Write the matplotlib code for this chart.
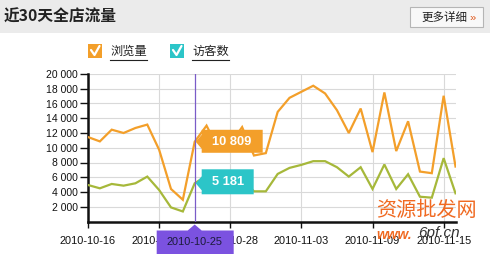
import matplotlib
matplotlib.use("Agg")
import matplotlib.pyplot as plt
import matplotlib.dates as mdates
import matplotlib.transforms as mtransforms
from matplotlib.patches import Polygon, Rectangle, FancyBboxPatch
from matplotlib.lines import Line2D
from matplotlib.ticker import FuncFormatter
import pandas as pd

# dados (30 dias de trafego da loja)
dias = pd.date_range("2010-10-16", "2010-11-16", freq="D")
visualizacoes = [11450, 10860, 12450, 12000, 12680, 13140, 9730, 4410, 2950, 10809,
                 13000, 9800, 10500, 12800, 8950, 9270, 14860, 16770, 17590, 18410,
                 17360, 15090, 12000, 15320, 9410, 17500, 9550, 13590, 6770, 6550,
                 17050, 7450]
visitantes = [4950, 4500, 5090, 4860, 5180, 6090, 4270, 1910, 1360, 5181,
              6200, 4500, 5000, 5800, 4090, 4090, 6450, 7270, 7680, 8180,
              8180, 7360, 6090, 7360, 4410, 7730, 4410, 6410, 3360, 3230,
              8590, 3820]
datas_eixo = ["2010-10-16", "2010-10-22", "2010-10-28", "2010-11-03", "2010-11-09", "2010-11-15"]
ticks_y = [2000, 4000, 6000, 8000, 10000, 12000, 14000, 16000, 18000, 20000]
dia_destaque = 9

titulo = "近30天全店流量"
botao = "更多详细"
legenda = ["浏览量", "访客数"]

COR_LARANJA = "#f39f2a"
COR_VERDE = "#a6b83a"
COR_TEAL = "#2cc5c8"
COR_ROXO = "#7b52e0"

CJK = ["Noto Sans CJK SC", "DejaVu Sans"]
NUM = ["Liberation Sans", "DejaVu Sans"]

W, H = 490, 254
fig = plt.figure(figsize=(W / 100, H / 100), dpi=100)
fig.patch.set_facecolor("white")


def px(x, y):
    return (x / W, 1 - y / H)


# cabecalho
fig.add_artist(Rectangle(px(0, 33), 1, 33 / H, transform=fig.transFigure,
                         facecolor="#ebebeb", edgecolor="none"))
fig.text(*px(4, 17), titulo, family=CJK, fontsize=11.3, fontweight="bold",
         va="center", ha="left", color="#222222")
fig.add_artist(FancyBboxPatch(px(410, 27), 73 / W, 20 / H, transform=fig.transFigure,
                              boxstyle="square,pad=0", facecolor="#f8f8f8",
                              edgecolor="#b5b5b5", linewidth=0.8))
fig.text(*px(421, 17.5), botao, family=CJK, fontsize=8.3, va="center", ha="left",
         color="#222222")
fig.text(*px(469, 17.5), "»", family=NUM, fontsize=8, va="center", ha="left",
         color="#e0561a")

# legenda
for x0, cor, rotulo in [(88, COR_LARANJA, legenda[0]), (170, COR_TEAL, legenda[1])]:
    fig.add_artist(FancyBboxPatch(px(x0, 58), 14 / W, 14 / H, transform=fig.transFigure,
                                  boxstyle="square,pad=0", facecolor=cor, edgecolor="none"))
    xs = [(x0 + 3) / W, (x0 + 6.5) / W, (x0 + 11.5) / W]
    ys = [1 - 50 / H, 1 - 55 / H, 1 - 46 / H]
    fig.add_artist(Line2D(xs, ys, transform=fig.transFigure, color="white", lw=1.6,
                          solid_capstyle="round", solid_joinstyle="round"))
    fig.text(*px(x0 + 22, 51.5), rotulo, family=CJK, fontsize=8.8, va="center",
             ha="left", color="#222222")
    fig.add_artist(Line2D([(x0 + 22) / W, (x0 + 59) / W], [1 - 59.5 / H, 1 - 59.5 / H],
                          transform=fig.transFigure, color="#222222", lw=0.8))

# area do grafico
ax = fig.add_axes([88 / W, (H - 221.5) / H, (456 - 88) / W, (221.5 - 74) / H])
ax.plot(dias, visualizacoes, color=COR_LARANJA, lw=1.6, solid_joinstyle="miter", zorder=3)
ax.plot(dias, visitantes, color=COR_VERDE, lw=1.6, solid_joinstyle="miter", zorder=3)
ax.axvline(dias[dia_destaque], color="#7a5cc8", lw=0.9, zorder=4)

ax.set_xlim(dias[0], dias[-1] + pd.Timedelta(hours=1))
ax.set_ylim(0, 20000)
ax.set_yticks(ticks_y)
ax.yaxis.set_major_formatter(FuncFormatter(lambda v, p: f"{int(v):,}".replace(",", " ")))
ax.set_xticks(pd.to_datetime(datas_eixo))
ax.set_xticklabels(datas_eixo)
ax.grid(True, color="#d9d9d9", lw=0.8, zorder=0)
ax.set_axisbelow(True)
for lado in ["top", "right"]:
    ax.spines[lado].set_visible(False)
for lado in ["left", "bottom"]:
    ax.spines[lado].set_linewidth(1.8)
    ax.spines[lado].set_color("#111111")
ax.tick_params(axis="y", direction="out", length=5.5, width=1, pad=2,
               labelsize=7.5, colors="#111111")
ax.tick_params(axis="x", direction="out", length=4.5, width=1, pad=6,
               labelsize=7.9, colors="#111111")
for rot in ax.get_xticklabels() + ax.get_yticklabels():
    rot.set_family(NUM)

# dicas (tooltips) do dia destacado
xnum = mdates.date2num(dias[dia_destaque])


def em_pixels(x, y, trans):
    return mtransforms.Affine2D() + mtransforms.ScaledTranslation(x, y, trans)


t_lar = em_pixels(xnum, visualizacoes[dia_destaque], ax.transData)
fig.add_artist(Polygon([(1, 0), (7, 7), (7, 12), (68, 12), (68, -11), (7, -11), (7, -7)],
                       closed=True, transform=t_lar, facecolor=COR_LARANJA, edgecolor="none",
                       zorder=5))
fig.text(0, 0, f"{visualizacoes[dia_destaque]:,}".replace(",", " "),
         transform=t_lar + mtransforms.Affine2D().translate(37, 0),
         family=NUM, fontsize=9.3, fontweight="bold", color="white",
         ha="center", va="center", zorder=6)

t_teal = em_pixels(xnum, visitantes[dia_destaque], ax.transData)
fig.add_artist(Polygon([(1, 0), (7, 7), (7, 14), (59, 14), (59, -11), (7, -11), (7, -7)],
                       closed=True, transform=t_teal, facecolor=COR_TEAL, edgecolor="none",
                       zorder=5))
fig.text(0, 0, f"{visitantes[dia_destaque]:,}".replace(",", " "),
         transform=t_teal + mtransforms.Affine2D().translate(33, 1),
         family=NUM, fontsize=9.3, fontweight="bold", color="white",
         ha="center", va="center", zorder=6)

misto = mtransforms.blended_transform_factory(ax.transData, ax.transAxes)
t_data = em_pixels(xnum, 0, misto)
fig.add_artist(Polygon([(0, -3), (7, -9), (39, -9), (39, -40), (-38, -40), (-38, -9), (-7, -9)],
                       closed=True, transform=t_data, facecolor=COR_ROXO, edgecolor="none",
                       zorder=5))
fig.text(0, 0, dias[dia_destaque].strftime("%Y-%m-%d"),
         transform=t_data + mtransforms.Affine2D().translate(0, -20.5),
         family=NUM, fontsize=7.9, color="#1c1c3a", ha="center", va="center", zorder=6)

# marca d'agua
fig.text(*px(376, 211), "资源批发网", family=CJK, fontsize=14.5, color="#f06a22",
         ha="left", va="center", style="italic", zorder=7)
fig.text(*px(376, 235), "www.", family=NUM, fontsize=10, color="#f06a22",
         ha="left", va="center", style="italic", fontweight="bold", zorder=7)
fig.text(*px(418, 233), "6pf.cn", family=NUM, fontsize=11, color="#333333",
         ha="left", va="center", style="italic", zorder=7)

fig.savefig("out.png", dpi=100)
